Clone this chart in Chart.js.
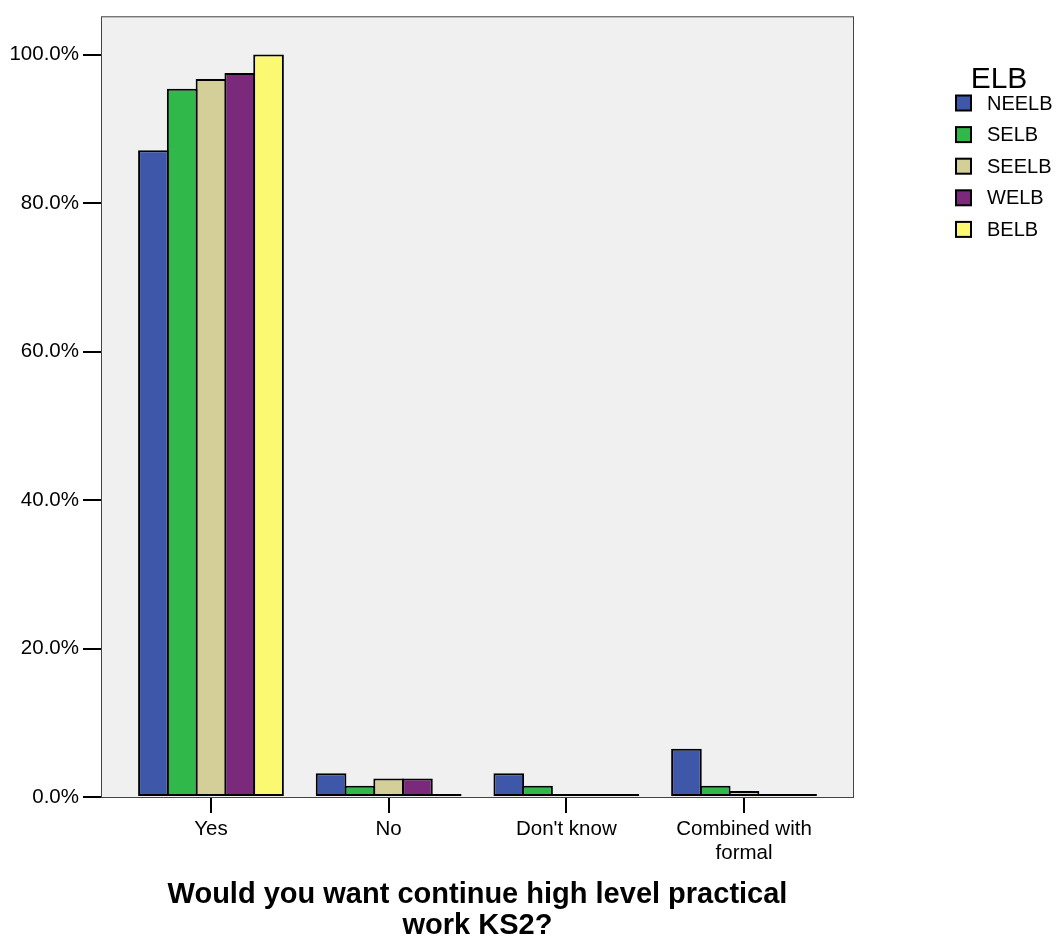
<!DOCTYPE html>
<html>
<head>
<meta charset="utf-8">
<script src="https://cdn.jsdelivr.net/npm/chart.js@4/dist/chart.umd.min.js"></script>
<style>
  html, body { margin: 0; padding: 0; background: #ffffff; }
  #wrap { width: 1058px; height: 944px; position: relative; }
</style>
</head>
<body>
<div id="wrap"><canvas id="c" width="1058" height="944"></canvas></div>
<script>
const categories = ["Yes", "No", "Don't know", ["Combined with", "formal"]];
const seriesNames = ["NEELB", "SELB", "SEELB", "WELB", "BELB"];
const NEELB = [87.1, 3.2, 3.2, 6.5];
const SELB  = [95.4, 1.5, 1.5, 1.5];
const SEELB = [96.7, 2.5, 0.0, 0.8];
const WELB  = [97.5, 2.5, 0.0, 0.0];
const BELB  = [100.0, 0.0, 0.0, 0.0];
const yTicks = [0, 20, 40, 60, 80, 100];
const legendTitle = "ELB";
const axisTitle = ["Would you want continue high level practical", "work KS2?"];

const seriesValues = [NEELB, SELB, SEELB, WELB, BELB];
const colors = ["#3e57a9", "#31b84a", "#d4cf98", "#7b297b", "#fbf872"];

const FONT = "'Liberation Sans', Arial, sans-serif";

const plotBox = {
  id: 'plotBox',
  beforeDatasetsDraw(chart) {
    const {ctx, chartArea: a} = chart;
    ctx.save();
    ctx.fillStyle = '#f0f0f0';
    ctx.fillRect(a.left, a.top, a.right - a.left, a.bottom - a.top);
    ctx.restore();
  },
  afterDatasetsDraw(chart) {
    const {ctx, chartArea: a} = chart;
    ctx.save();
    ctx.strokeStyle = '#444444';
    ctx.lineWidth = 1;
    ctx.strokeRect(a.left + 0.5, a.top + 0.5, a.right - a.left - 1, a.bottom - a.top);
    ctx.restore();
  }
};

const legendPlugin = {
  id: 'customLegend',
  afterDraw(chart) {
    const {ctx} = chart;
    ctx.save();
    ctx.fillStyle = '#000';
    ctx.textBaseline = 'alphabetic';
    ctx.textAlign = 'center';
    ctx.font = "30px " + FONT;
    ctx.fillText(legendTitle, 999, 88);
    ctx.textAlign = 'left';
    ctx.textBaseline = 'middle';
    ctx.font = "20px " + FONT;
    seriesNames.forEach((name, i) => {
      const y = 103 + i * 31.6;
      ctx.fillStyle = '#000';
      ctx.fillRect(955, y - 8.5, 17, 17);
      ctx.fillStyle = colors[i];
      ctx.fillRect(957, y - 6.5, 13, 13);
      ctx.fillStyle = '#000';
      ctx.fillText(name, 987, y + 1);
    });
    ctx.restore();
  }
};

const datasets = seriesNames.map((name, i) => ({
  label: name,
  data: seriesValues[i].map((v, j) => ({x: j, y: v})),
  backgroundColor: colors[i],
  borderColor: '#000000',
  borderWidth: 2,
  borderSkipped: false,
  minBarLength: 3,
  barPercentage: 1.065,
  categoryPercentage: 0.81
}));

new Chart(document.getElementById('c'), {
  type: 'bar',
  data: { datasets },
  plugins: [plotBox, legendPlugin],
  options: {
    responsive: false,
    animation: false,
    devicePixelRatio: 1,
    layout: { padding: { top: 15, right: 204, left: 0, bottom: 0 } },
    plugins: { legend: { display: false }, title: { display: false }, tooltip: { enabled: false } },
    scales: {
      x: {
        type: 'linear',
        min: -0.619,
        max: 3.619,
        offset: false,
        afterBuildTicks(scale) { scale.ticks = categories.map((c, i) => ({value: i})); },
        afterFit(scale) { scale.height = 147; },
        grid: { display: true, offset: false, drawOnChartArea: false, drawTicks: true, tickLength: 16, color: '#000', lineWidth: 2 },
        border: { display: false },
        ticks: {
          padding: 4,
          color: '#000',
          maxRotation: 0,
          autoSkip: false,
          font: { family: FONT, size: 20.5, lineHeight: 1.18 },
          callback: (v) => categories[v]
        },
        title: {
          display: true,
          text: axisTitle,
          color: '#000',
          font: { family: FONT, size: 29, weight: 'bold', lineHeight: 1.05 },
          padding: { top: 0, bottom: 3 }
        }
      },
      y: {
        type: 'linear',
        min: 0,
        max: 105.15,
        afterBuildTicks(scale) { scale.ticks = yTicks.map(v => ({value: v})); },
        afterFit(scale) { scale.width = 101; },
        grid: { display: true, drawOnChartArea: false, drawTicks: true, tickLength: 18, color: '#000', lineWidth: 2 },
        border: { display: false },
        ticks: {
          padding: 4,
          color: '#000',
          font: { family: FONT, size: 20.5 },
          callback: (v) => v.toFixed(1) + '%'
        }
      }
    }
  }
});
</script>
</body>
</html>
